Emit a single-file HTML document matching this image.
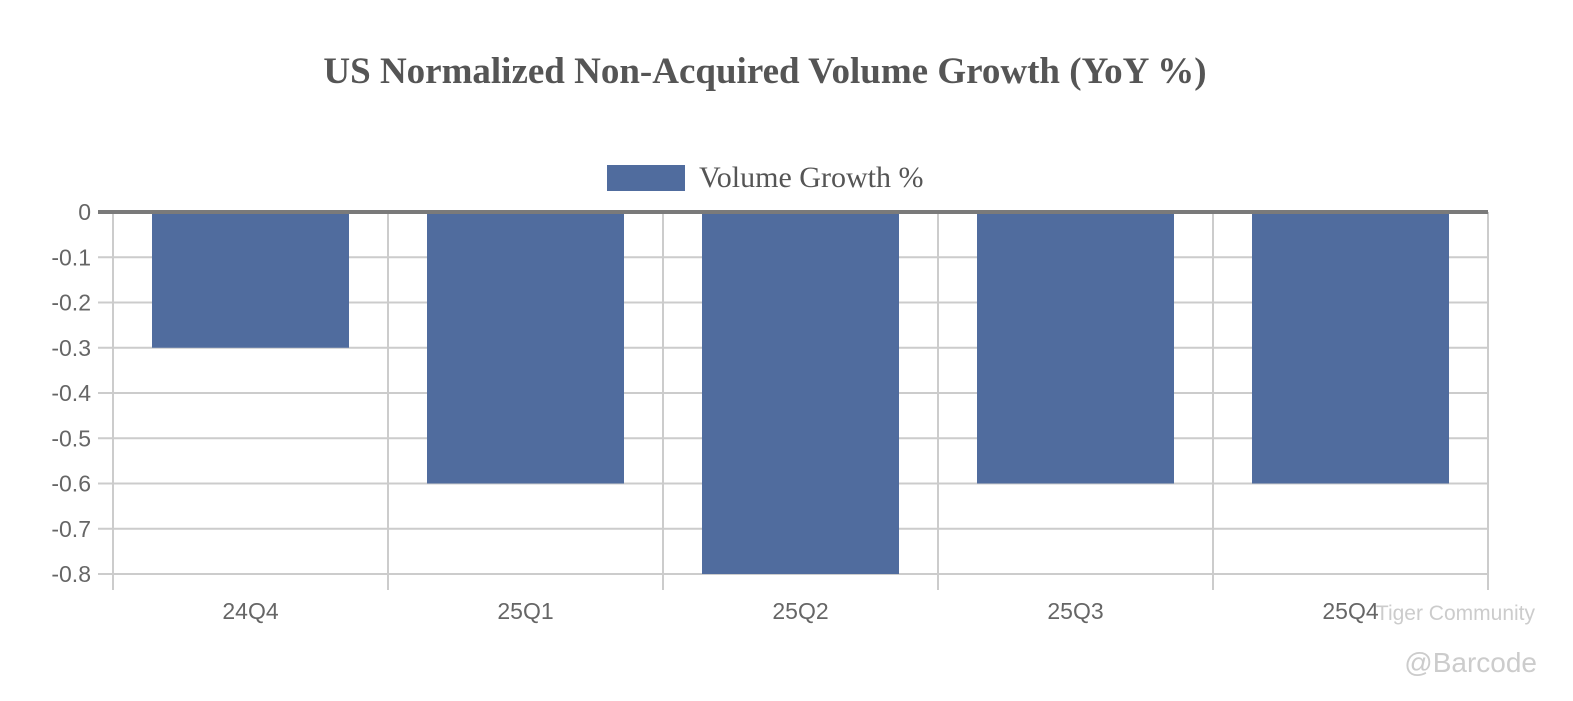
<!DOCTYPE html>
<html><head><meta charset="utf-8"><style>
html,body{margin:0;padding:0;background:#fff;width:1573px;height:701px;overflow:hidden}
</style></head><body>
<svg id="chart" width="1573" height="701" xmlns="http://www.w3.org/2000/svg">
<text x="765" y="83" text-anchor="middle" font-family="Liberation Serif, serif" font-weight="bold" font-size="37" fill="#555">US Normalized Non-Acquired Volume Growth (YoY %)</text>
<rect x="607" y="165" width="78" height="26" fill="#506c9e"/>
<text x="699" y="187" font-family="Liberation Serif, serif" font-size="30" fill="#555">Volume Growth %</text>
<g id="grid"></g><g id="bars"></g><g id="axes"></g>
<text x="1537" y="672" text-anchor="end" font-family="Liberation Sans, sans-serif" font-size="28" fill="#ccc">@Barcode</text>
<text x="1535" y="620" text-anchor="end" font-family="Liberation Sans, sans-serif" font-size="21" fill="#ccc">Tiger Community</text>
</svg>
<script>
const categories=["24Q4","25Q1","25Q2","25Q3","25Q4"];
const values=[-0.3,-0.6,-0.8,-0.6,-0.6];
const yTicks=[0,-0.1,-0.2,-0.3,-0.4,-0.5,-0.6,-0.7,-0.8];
const NS="http://www.w3.org/2000/svg";
const L=113,R=1488,T=212,B=574,yMin=-0.8,yMax=0;
const y=v=>T+(yMax-v)/(yMax-yMin)*(B-T);
const band=(R-L)/categories.length;
const x=i=>L+i*band;
function mk(tag,attrs,parent,txt){const e=document.createElementNS(NS,tag);for(const k in attrs)e.setAttribute(k,attrs[k]);if(txt!==undefined)e.textContent=txt;document.getElementById(parent).appendChild(e);return e;}
yTicks.forEach(t=>{
 const l=mk('line',{x1:98,x2:R,y1:y(t),y2:y(t),stroke:'#ccc','stroke-width':2},'grid');
 
 
 const tx=mk('text',{x:91,y:y(t)+8,'text-anchor':'end','font-family':'Liberation Sans, sans-serif','font-size':23,fill:'#666'},'axes',String(t));
 
 
});
for(let i=0;i<=categories.length;i++){
 const l=mk('line',{x1:x(i),x2:x(i),y1:T,y2:590,stroke:'#ccc','stroke-width':2},'grid');
 
 
}
categories.forEach((c,i)=>{
 const bw=197,bx=x(i)+(band-bw)/2;
 const r=mk('rect',{x:bx,y:y(0),width:bw,height:y(values[i])-y(0),fill:'#506c9e'},'bars');
 
 
 const t=mk('text',{x:x(i)+band/2,y:619,'text-anchor':'middle','font-family':'Liberation Sans, sans-serif','font-size':23,fill:'#666'},'axes',c);
 
 
});
const z=mk('line',{x1:98,x2:R,y1:y(0),y2:y(0),stroke:'#7a7a7a','stroke-width':4},'axes');


</script>
</body></html>
